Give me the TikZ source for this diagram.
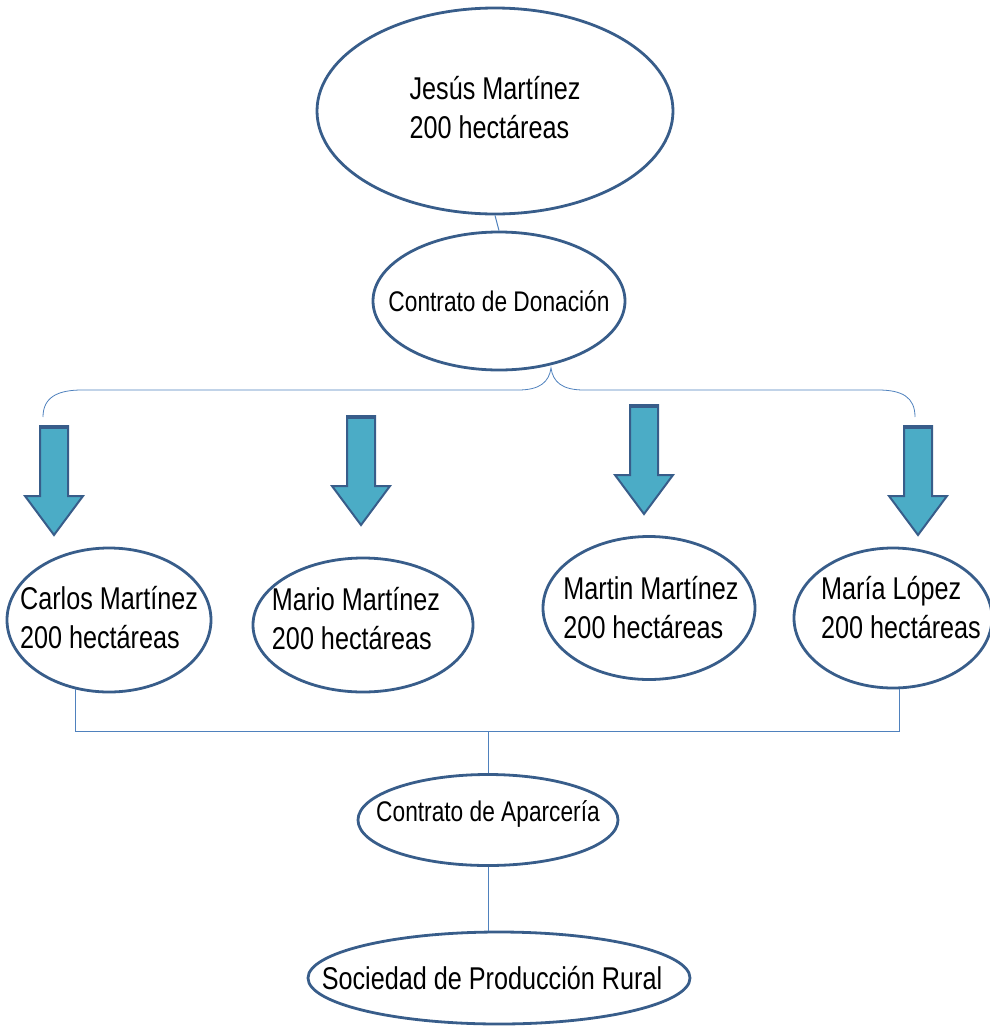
\documentclass[tikz,border=0pt]{standalone}
\usepackage{fontspec}
\setmainfont[FakeStretch=0.8]{Liberation Sans}
\usetikzlibrary{shapes.geometric,positioning}
\definecolor{ovalline}{RGB}{56,93,138}
\definecolor{linkline}{RGB}{79,129,189}
\definecolor{arrowfill}{RGB}{75,172,198}
\tikzset{
  oval/.style={ellipse, draw=ovalline, line width=2.8pt, inner sep=0pt},
  bigtext/.style={align=left, inner sep=0pt, font=\fontsize{31.5}{39}\selectfont},
  smalltext/.style={align=left, inner sep=0pt, font=\fontsize{28.4}{34}\selectfont},
  link/.style={draw=linkline, line width=1pt},
  downarrow/.pic={
    \filldraw[fill=arrowfill, draw=ovalline, line width=2pt, line join=miter]
      (-14,0) -- (14,0) -- (14,70) -- (29,70) -- (0,109) -- (-29,70) -- (-14,70) -- cycle;
    \draw[ovalline, line width=3.5pt] (-15,1) -- (15,1);
  }
}
\begin{document}
\begin{tikzpicture}[x=1pt, y=-1pt]
\useasboundingbox (0,0) rectangle (989,1026);

% donor and contract
\node[oval, minimum width=356pt, minimum height=206pt,
  label={[bigtext, yshift=3pt]center:{Jesús Martínez\\200 hectáreas}}] (jesus) at (495,111) {};
\node[oval, minimum width=252pt, minimum height=138pt,
  label={[smalltext]center:Contrato de Donación}] (donacion) at (499,301) {};
\draw[link] (jesus.south) -- (donacion.north);

% brace under the contract
\coordinate (bracetip) at (551,368);
\draw[link, line width=0.8pt] (43,417) .. controls (43,397) and (58,390) .. (82,390) -- (518,390)
  .. controls (540,390) and (549,382) .. (bracetip)
  .. controls (553,382) and (562,390) .. (584,390) -- (878,390)
  .. controls (902,390) and (915,397) .. (915,417);

% block arrows
\pic at (54,426) {downarrow};
\pic at (361,416) {downarrow};
\pic at (644,405) {downarrow};
\pic at (918,426) {downarrow};

% heirs
\node[oval, minimum width=204pt, minimum height=144pt,
  label={[bigtext, yshift=2pt]center:{Carlos Martínez\\200 hectáreas}}] (carlos) at (109,620) {};
\node[oval, minimum width=220pt, minimum height=134pt,
  label={[bigtext, xshift=-7pt, yshift=6pt]center:{Mario Martínez\\200 hectáreas}}] (mario) at (363,625) {};
\node[oval, minimum width=212pt, minimum height=143pt,
  label={[bigtext, xshift=2pt]center:{Martin Martínez\\200 hectáreas}}] (martin) at (649,608) {};
\node[oval, minimum width=198pt, minimum height=140pt,
  label={[bigtext, xshift=8pt, yshift=10pt]center:{María López\\200 hectáreas}}] (maria) at (893,618) {};

% aparceria and society
\node[oval, minimum width=260pt, minimum height=91pt,
  label={[smalltext, yshift=6pt]center:Contrato de Aparcería}] (aparceria) at (488,820) {};
\node[oval, minimum width=382pt, minimum height=92pt,
  label={[bigtext, xshift=-7pt]center:Sociedad de Producción Rural}] (sociedad) at (499,978) {};

\coordinate (bus) at (488,731);
\draw[link] (carlos.-116) |- (bus) -| (maria.-85);
\draw[link] (bus) -- (aparceria.north);
\draw[link] (aparceria.south) -- (aparceria.south |- sociedad.north);
\end{tikzpicture}
\end{document}
